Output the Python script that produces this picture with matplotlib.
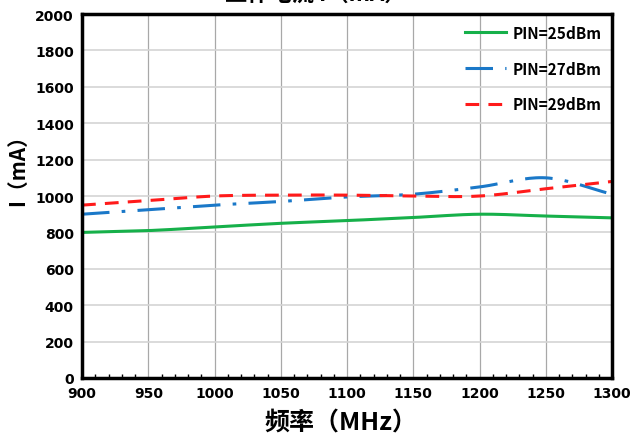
import numpy as np
import matplotlib
matplotlib.use("Agg")
import matplotlib.pyplot as plt
from matplotlib.ticker import MultipleLocator

plt.rcParams['font.family'] = ['Noto Sans CJK SC', 'DejaVu Sans']

freq = [900, 950, 1000, 1050, 1100, 1150, 1200, 1250, 1300]
i_25 = [800, 810, 830, 850, 865, 882, 900, 890, 880]
i_27 = [900, 925, 950, 970, 995, 1010, 1050, 1100, 1010]
i_29 = [950, 975, 1000, 1005, 1005, 1000, 1000, 1040, 1080]
labels = ["PIN=25dBm", "PIN=27dBm", "PIN=29dBm"]
title = "工作电流 I（mA）"
xlabel = "频率（MHz）"
ylabel = "I（mA）"


def smooth(x, y, n=20):
    x = np.asarray(x, float); y = np.asarray(y, float)
    px = np.concatenate([[2*x[0]-x[1]], x, [2*x[-1]-x[-2]]])
    py = np.concatenate([[2*y[0]-y[1]], y, [2*y[-1]-y[-2]]])
    xs, ys = [], []
    t = np.linspace(0, 1, n, endpoint=False)
    for i in range(1, len(px)-2):
        p0, p1, p2, p3 = [np.array([px[j], py[j]]) for j in range(i-1, i+3)]
        for tt in t:
            pt = 0.5*((2*p1) + (-p0+p2)*tt + (2*p0-5*p1+4*p2-p3)*tt**2 + (-p0+3*p1-3*p2+p3)*tt**3)
            xs.append(pt[0]); ys.append(pt[1])
    xs.append(x[-1]); ys.append(y[-1])
    return xs, ys


fig = plt.figure(figsize=(6.31, 4.39), dpi=100)
ax = fig.add_axes([0.130, 0.1367, 0.840, 0.829])

ax.plot(*smooth(freq, i_25), color='#16b04a', lw=2.2, label=labels[0])
ax.plot(*smooth(freq, i_27), color='#1a78c8', lw=2.2, dashes=(9, 4, 1.2, 4), label=labels[1])
ax.plot(*smooth(freq, i_29), color='#ff1a1a', lw=2.2, dashes=(4.5, 3.0), label=labels[2])

ax.set_xlim(900, 1300)
ax.set_ylim(0, 2000)
ax.xaxis.set_major_locator(MultipleLocator(50))
ax.yaxis.set_major_locator(MultipleLocator(200))
ax.xaxis.set_minor_locator(MultipleLocator(10))
ax.grid(axis='x', color='#a8a8a8', lw=0.9)
ax.grid(axis='y', color='#d4d4d4', lw=1.2)
ax.set_axisbelow(True)
for s in ax.spines.values():
    s.set_linewidth(2.5)
ax.tick_params(axis='x', which='major', length=0, pad=6)
ax.tick_params(axis='x', which='minor', direction='in', length=3, width=1)
ax.tick_params(axis='y', length=0, pad=6)
for lab in ax.get_xticklabels() + ax.get_yticklabels():
    lab.set_fontweight('bold')
    lab.set_fontsize(10)
    lab.set_family(['DejaVu Sans'])

fig.text(0.541, 0.036, xlabel, ha='center', va='center', fontsize=18, fontweight='bold')
fig.text(0.0285, 0.625, ylabel, ha='center', va='center', rotation=90,
         fontsize=15, fontweight='bold')

leg = ax.legend(loc='upper right', frameon=False, handlelength=2.7,
                labelspacing=1.3, borderaxespad=0.3, handletextpad=0.4,
                prop={'weight': 'bold', 'size': 11})

fig.text(0.5, 1.012, title, ha='center', va='center', fontsize=16, fontweight='bold')

fig.savefig("out.png", dpi=100)
